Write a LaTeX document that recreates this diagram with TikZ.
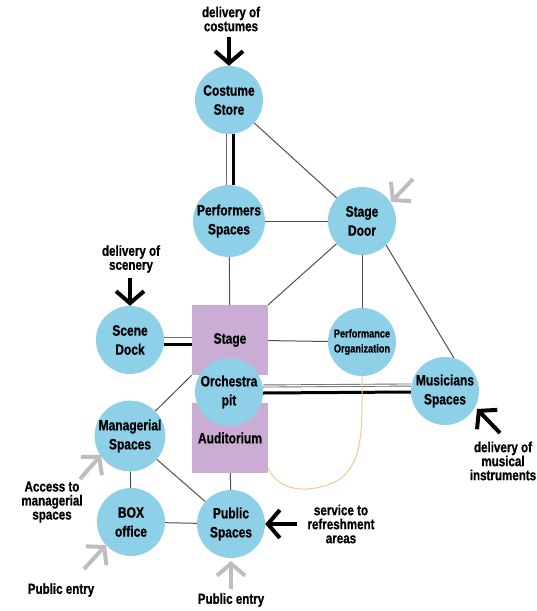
\documentclass[tikz,border=0pt]{standalone}
\usepackage{fontspec}
\setmainfont{Liberation Sans}[FakeStretch=0.8, BoldFeatures={FakeBold=0.8}]
\usetikzlibrary{arrows.meta,calc}

\definecolor{roomblue}{RGB}{142,208,232}
\definecolor{roompurple}{RGB}{203,172,212}
\definecolor{linkgray}{RGB}{80,80,80}
\definecolor{entrygray}{RGB}{190,190,190}
\definecolor{routeorange}{RGB}{244,202,145}

\tikzset{
  room/.style={circle, fill=roomblue, minimum size=68pt, inner sep=0pt, align=center,
    font=\bfseries\fontsize{15}{19}\selectfont},
  smallroom/.style={room, font=\bfseries\fontsize{11.5}{15}\selectfont},
  hall/.style={rectangle, fill=roompurple, minimum width=76pt, minimum height=70pt,
    inner sep=0pt, font=\bfseries\fontsize{15}{19}\selectfont},
  link/.style={draw=linkgray, line width=1pt},
  lightlink/.style={draw=gray!85!black, double=white, line width=0.9pt, double distance=1.2pt},
  heavylink/.style={draw=black, line width=3pt},
  supply/.style={draw=black, line width=4pt, -{Straight Barb[length=12pt,width=28pt]}},
  entry/.style={supply, draw=entrygray},
  route/.style={draw=routeorange, line width=1pt},
  caption/.style={align=center, font=\bfseries\fontsize{14.5}{14}\selectfont}
}

\begin{document}
\begin{tikzpicture}[x=1pt, y=-1pt]
  \useasboundingbox (0,0) rectangle (536,611);
  \fill[white] (0,0) rectangle (536,611);

  % stage and auditorium blocks
  \node[hall] (stage) at (230,340) {Stage};
  \node[hall] (aud) at (230,438) {Auditorium};

  % rooms
  \node[room] (cs) at (229,100) {Costume\\Store};
  \node[room] (ps) at (229,221) {Performers\\Spaces};
  \node[room] (sdoor) at (362,221) {Stage\\Door};
  \node[smallroom] (po) at (362,342) {Performance\\Organization};
  \node[room] (scene) at (130,340) {Scene\\Dock};
  \node[room] (orch) at (229,392) {Orchestra\\pit};
  \node[room] (mus) at (445,391) {Musicians\\Spaces};
  \node[room] (mgr) at (130,436) {Managerial\\Spaces};
  \node[room] (box) at (131,522) {BOX\\office};
  \node[room] (pub) at (231,524) {Public\\Spaces};

  % adjacencies
  \draw[lightlink] ([xshift=-4pt]cs.south) -- ([xshift=-4pt]ps.north);
  \draw[heavylink] ([xshift=4pt]cs.south) -- ([xshift=4pt]ps.north);
  \draw[link] (cs) -- (sdoor);
  \draw[link] (ps) -- (sdoor);
  \draw[link] (ps) -- (stage);
  \draw[link] (sdoor) -- (stage.north east);
  \draw[link] (sdoor) -- (po);
  \draw[link] (sdoor.-45) -- (mus.75);
  \draw[link] (stage) -- (po);
  \draw[lightlink] ([yshift=4pt]scene.east) -- ([yshift=4pt]stage.west);
  \draw[heavylink] ([yshift=-4pt]scene.east) -- ([yshift=-4pt]stage.west);
  \draw[lightlink] ([yshift=6pt]orch.east) -- ([yshift=6pt]mus.west);
  \draw[heavylink] ([yshift=-1pt]orch.east) -- ([yshift=-1pt]mus.west);
  \draw[link] (stage.south west) -- (mgr);
  \draw[link] (mgr) -- (box);
  \draw[link] (mgr) -- (pub);
  \draw[link] (box) -- (pub);
  \draw[link] (aud) -- (pub);

  % route from performance organization to the auditorium
  \draw[route] (po.south) .. controls (362,430) and (364,466) .. (335,482)
    .. controls (305,495) and (278,490) .. ([yshift=5pt]aud.south east);

  % deliveries and entrances
  \coordinate (costumeIn) at (229,37);
  \coordinate (sceneryIn) at (130,278);
  \coordinate (musicIn) at (500,433);
  \coordinate (musicTip) at (477,409);
  \coordinate (refreshIn) at (297,524);
  \coordinate (doorIn) at (413,179);
  \coordinate (doorTip) at (391,202);
  \coordinate (mgrIn) at (80,479);
  \coordinate (mgrTip) at (101,455);
  \coordinate (boxIn) at (84,569);
  \coordinate (boxTip) at (106,545);
  \coordinate (pubIn) at (231,589);
  \coordinate (pubTip) at (231,561);

  \draw[supply] (costumeIn) -- (cs.north);
  \draw[supply] (sceneryIn) -- (scene.north);
  \draw[supply] (musicIn) -- (musicTip);
  \draw[supply] (refreshIn) -- (pub.east);
  \draw[entry] (doorIn) -- (doorTip);
  \draw[entry] (mgrIn) -- (mgrTip);
  \draw[entry] (boxIn) -- (boxTip);
  \draw[entry] (pubIn) -- (pubTip);

  % captions
  \node[caption] (costumeNote) at (231,19) {delivery of\\costumes};
  \node[caption] (sceneryNote) at (131,259) {delivery of\\scenery};
  \node[caption] (musicNote) at (503,461) {delivery of\\musical\\instruments};
  \node[caption] (refreshNote) at (341,524) {service to\\refreshment\\areas};
  \node[caption] (mgrNote) at (52,502) {Access to\\managerial\\spaces};
  \node[caption] (entryNoteA) at (61,590) {Public entry};
  \node[caption] (entryNoteB) at (231,600) {Public entry};
\end{tikzpicture}
\end{document}
